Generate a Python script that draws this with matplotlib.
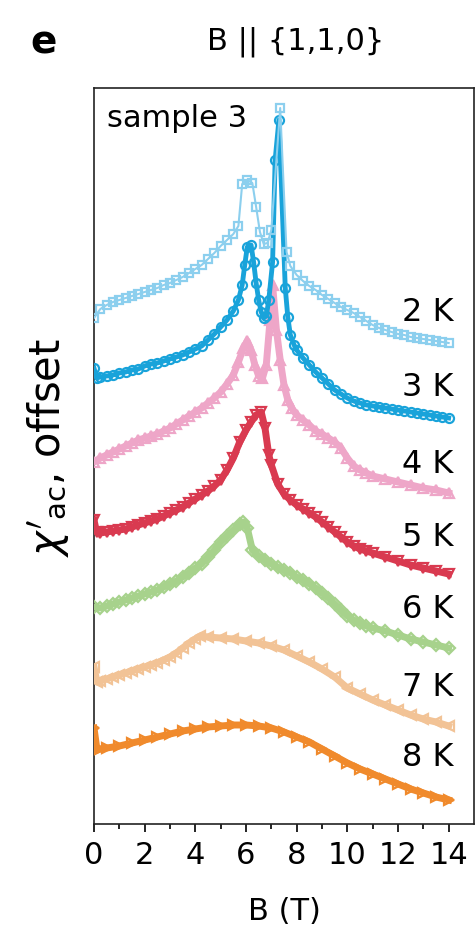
import numpy as np
import matplotlib
matplotlib.use("Agg")
import matplotlib.pyplot as plt

# --------------------------------
# data (B in T, chi' in a.u. incl. offset)
# --------------------------------
B_2K = [0, 0.25, 0.5, 0.75, 1.0, 1.25, 1.5, 1.75, 2.0, 2.25, 2.5, 2.75, 3.0, 3.25, 3.5,
        3.75, 4.0, 4.25, 4.5, 4.75, 5.0, 5.25, 5.5, 5.7, 5.85, 6.05, 6.25, 6.4, 6.55, 6.7,
        6.85, 7.0, 7.35, 7.6, 7.75, 8.0, 8.25, 8.5, 8.75, 9.0, 9.25, 9.5, 9.75, 10.0, 10.25,
        10.5, 10.75, 11.0, 11.25, 11.5, 11.75, 12.0, 12.25, 12.5, 12.75, 13.0, 13.25, 13.5,
        13.75, 14.0]
chi_2K = [50.6, 51.5, 51.9, 52.2, 52.4, 52.6, 52.8, 53.0, 53.2, 53.4, 53.6, 53.9, 54.1, 54.4,
          54.7, 55.1, 55.5, 55.9, 56.5, 57.1, 57.8, 58.4, 59.0, 59.8, 64.0, 64.4, 64.1, 61.7,
          59.2, 58.0, 58.1, 59.4, 71.6, 57.2, 55.8, 54.9, 54.3, 53.8, 53.4, 52.9, 52.5, 52.1,
          51.7, 51.4, 51.1, 50.7, 50.3, 49.9, 49.6, 49.4, 49.2, 49.0, 48.9, 48.7, 48.6, 48.5,
          48.4, 48.3, 48.2, 48.1]

B_3K = [0, 0.1, 0.25, 0.5, 0.75, 1.0, 1.25, 1.5, 1.75, 2.0, 2.25, 2.5, 2.75, 3.0, 3.25, 3.5,
        3.75, 4.0, 4.25, 4.5, 4.75, 5.0, 5.25, 5.5, 5.7, 5.85, 5.95, 6.05, 6.2, 6.3, 6.4, 6.5,
        6.6, 6.7, 6.8, 6.9, 7.05, 7.15, 7.3, 7.55, 7.65, 7.75, 7.9, 8.0, 8.25, 8.5, 8.75, 9.0,
        9.25, 9.5, 9.75, 10.0, 10.25, 10.5, 10.75, 11.0, 11.25, 11.5, 11.75, 12.0, 12.25, 12.5,
        12.75, 13.0, 13.25, 13.5, 13.75, 14.0]
chi_3K = [45.6, 44.6, 44.7, 44.8, 44.9, 45.1, 45.2, 45.4, 45.5, 45.8, 46.0, 46.1, 46.3, 46.5,
          46.7, 46.9, 47.2, 47.5, 47.8, 48.4, 49.0, 49.7, 50.4, 51.3, 52.4, 53.9, 55.9, 57.7,
          57.9, 56.2, 54.1, 52.4, 51.2, 50.6, 50.8, 52.4, 56.2, 66.4, 70.4, 53.6, 50.7, 48.9,
          47.9, 47.4, 46.6, 45.9, 45.2, 44.6, 44.0, 43.4, 43.0, 42.6, 42.3, 42.1, 41.9, 41.8,
          41.7, 41.6, 41.5, 41.4, 41.3, 41.2, 41.1, 41.0, 40.9, 40.8, 40.7, 40.6]

B_4K = [0, 0.25, 0.5, 0.75, 1.0, 1.25, 1.5, 1.75, 2.0, 2.25, 2.5, 2.75, 3.0, 3.25, 3.5, 3.75,
        4.0, 4.25, 4.5, 4.75, 5.0, 5.25, 5.5, 5.7, 5.9, 6.05, 6.2, 6.35, 6.5, 6.65, 6.8, 6.95,
        7.05, 7.2, 7.35, 7.5, 7.65, 7.8, 8.0, 8.25, 8.5, 8.75, 9.0, 9.25, 9.5, 9.75, 10.0,
        10.25, 10.5, 10.75, 11.0, 11.5, 12.0, 12.5, 13.0, 13.5, 14.0]
chi_4K = [36.2, 36.6, 36.9, 37.2, 37.5, 37.8, 38.1, 38.4, 38.6, 38.8, 39.0, 39.3, 39.6, 40.0,
          40.4, 40.8, 41.2, 41.6, 42.1, 42.6, 43.2, 44.0, 44.9, 46.2, 47.6, 48.3, 47.4, 45.9,
          44.8, 44.6, 45.9, 50.4, 53.9, 49.4, 46.4, 43.9, 42.4, 41.6, 40.9, 40.4, 39.9, 39.3,
          39.0, 38.6, 38.2, 37.6, 36.6, 35.8, 35.4, 35.1, 34.8, 34.5, 34.2, 33.9, 33.6, 33.4,
          33.1]

B_5K = [0, 0.1, 0.25, 0.5, 0.75, 1.0, 1.25, 1.5, 1.75, 2.0, 2.25, 2.5, 2.75, 3.0, 3.25, 3.5,
        3.75, 4.0, 4.25, 4.5, 4.75, 5.0, 5.25, 5.5, 5.75, 6.0, 6.2, 6.4, 6.6, 6.75, 6.9, 7.0,
        7.25, 7.5, 7.75, 8.0, 8.25, 8.5, 8.75, 9.0, 9.25, 9.5, 9.75, 10.0, 10.25, 10.5, 10.75,
        11.0, 11.5, 12.0, 12.5, 13.0, 13.5, 14.0]
chi_5K = [30.4, 29.2, 29.1, 29.2, 29.3, 29.4, 29.5, 29.7, 29.9, 30.1, 30.3, 30.5, 30.8, 31.1,
          31.4, 31.7, 32.1, 32.5, 32.9, 33.3, 33.8, 34.4, 35.4, 36.6, 38.2, 39.4, 40.2, 40.9,
          41.2, 39.6, 36.9, 35.9, 34.0, 33.0, 32.4, 31.9, 31.5, 31.1, 30.7, 30.2, 29.7, 29.2,
          28.7, 28.2, 27.8, 27.5, 27.3, 27.1, 26.7, 26.3, 25.9, 25.6, 25.3, 25.0]

B_6K = [0, 0.25, 0.5, 0.75, 1.0, 1.25, 1.5, 1.75, 2.0, 2.25, 2.5, 2.75, 3.0, 3.25, 3.5, 3.75,
        4.0, 4.25, 4.5, 4.75, 5.0, 5.25, 5.5, 5.75, 5.9, 6.05, 6.25, 6.5, 6.75, 7.0, 7.25, 7.5,
        7.75, 8.0, 8.25, 8.5, 8.75, 9.0, 9.25, 9.5, 9.75, 10.0, 10.25, 10.5, 10.75, 11.0, 11.5,
        12.0, 12.5, 13.0, 13.5, 14.0]
chi_6K = [21.7, 21.6, 21.8, 22.0, 22.2, 22.4, 22.6, 22.8, 23.0, 23.2, 23.4, 23.7, 24.0, 24.3,
          24.7, 25.1, 25.6, 26.0, 26.7, 27.4, 28.2, 28.8, 29.4, 30.0, 30.2, 29.6, 27.4, 26.8,
          26.4, 26.0, 25.7, 25.4, 25.1, 24.7, 24.4, 24.0, 23.6, 23.1, 22.6, 22.0, 21.4, 20.8,
          20.4, 20.1, 19.8, 19.6, 19.3, 18.9, 18.5, 18.2, 17.9, 17.6]

B_7K = [0, 0.12, 0.25, 0.5, 0.75, 1.0, 1.25, 1.5, 1.75, 2.0, 2.25, 2.5, 2.75, 3.0, 3.25, 3.5,
        3.75, 4.0, 4.2, 4.5, 5.0, 5.5, 6.0, 6.5, 7.0, 7.5, 8.0, 8.5, 9.0, 9.5, 10.0, 10.5, 11.0,
        11.5, 12.0, 12.5, 13.0, 13.5, 14.0]
chi_7K = [15.7, 14.2, 14.3, 14.5, 14.7, 14.9, 15.1, 15.3, 15.5, 15.7, 15.9, 16.1, 16.4, 16.7,
          17.1, 17.6, 18.1, 18.5, 18.8, 18.7, 18.6, 18.5, 18.3, 18.1, 17.8, 17.4, 16.8, 16.2,
          15.5, 14.7, 13.6, 13.0, 12.4, 11.9, 11.4, 10.9, 10.5, 10.2, 9.8]

B_8K = [0, 0.12, 0.25, 0.5, 1.0, 1.5, 2.0, 2.5, 3.0, 3.5, 4.0, 4.5, 5.0, 5.5, 6.0, 6.5, 7.0,
        7.5, 8.0, 8.5, 9.0, 9.5, 10.0, 10.5, 11.0, 11.5, 12.0, 12.5, 13.0, 13.5, 14.0]
chi_8K = [9.6, 7.4, 7.5, 7.6, 7.8, 8.1, 8.4, 8.7, 9.0, 9.3, 9.5, 9.7, 9.8, 9.9, 9.9, 9.8, 9.6,
          9.2, 8.7, 8.2, 7.5, 6.8, 6.1, 5.5, 5.0, 4.5, 4.0, 3.5, 3.1, 2.7, 2.4]

temps = ["2 K", "3 K", "4 K", "5 K", "6 K", "7 K", "8 K"]
fields = [B_2K, B_3K, B_4K, B_5K, B_6K, B_7K, B_8K]
chis = [chi_2K, chi_3K, chi_4K, chi_5K, chi_6K, chi_7K, chi_8K]

# --------------------------------
# styles
# --------------------------------
colors = ['#8ccfee', '#19a3da', '#eea6c8', '#d93a50', '#a7d28c', '#f2c396', '#f08a2c']
markers = ['s', 'o', '^', 'v', 'D', '<', '>']
msizes = [5.5, 6.5, 7, 7, 6, 7, 7]
lwidths = [1.5, 3.5, 5, 5, 5, 5, 5]
label_y = [51.1, 43.6, 35.9, 28.7, 21.4, 13.7, 6.7]

plt.rcParams['font.family'] = 'DejaVu Sans'
plt.rcParams['font.size'] = 22

fig = plt.figure(figsize=(4.77, 9.36), dpi=100)
ax = fig.add_axes([94 / 477, 112 / 936, 380 / 477, 736 / 936])

for i in range(len(temps)):
    ax.plot(fields[i], chis[i], color=colors[i], lw=lwidths[i], marker=markers[i],
            ms=msizes[i], mfc='none', mec=colors[i], mew=1.6, zorder=10 - i)
    ax.text(12.15, label_y[i], temps[i], ha='left', va='center', fontsize=23)

ax.text(0.51, 70.5, 'sample 3', ha='left', va='center', fontsize=22)

ax.set_xlim(0, 15)
ax.set_ylim(0, 73.6)
ax.set_xticks(np.arange(0, 15, 2))
ax.set_xticks(np.arange(1, 15, 2), minor=True)
ax.set_yticks([])
ax.tick_params(axis='x', which='major', direction='out', length=6, width=1.2, pad=6,
               labelsize=22)
ax.tick_params(axis='x', which='minor', direction='out', length=3.5, width=1.2)
for sp in ax.spines.values():
    sp.set_linewidth(1.2)
    sp.set_color('#222222')

ax.set_xlabel('B (T)', fontsize=22, labelpad=20)
fig.text(48 / 477, 1 - 448 / 936, r"$\chi'_{\mathrm{ac}}$, offset", rotation=90,
         ha='center', va='center', fontsize=30)
fig.text(296 / 477, 1 - 42 / 936, 'B || {1,1,0}', ha='center', va='center', fontsize=22)
fig.text(44 / 477, 1 - 42 / 936, 'e', ha='center', va='center', fontsize=28,
         fontweight='bold')

plt.savefig('out.png', dpi=100)
